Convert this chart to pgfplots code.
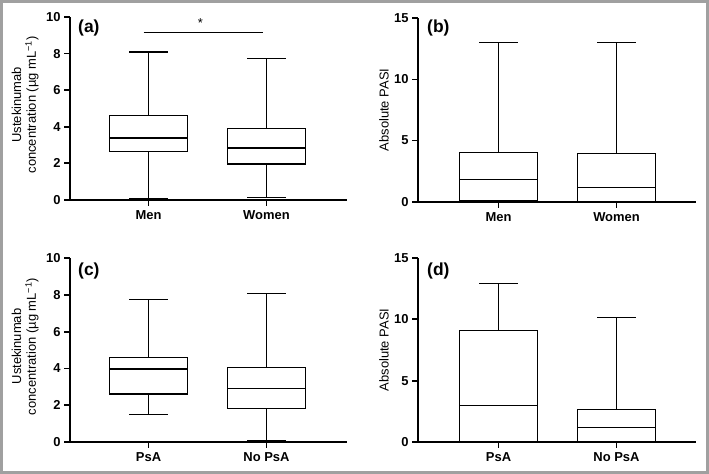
\documentclass[border=0pt]{standalone}
\usepackage{pgfplots}
\pgfplotsset{compat=1.18}
\usepgfplotslibrary{statistics}
\usepackage{fontspec}
\setmainfont{Liberation Sans}
\definecolor{framegray}{RGB}{160,160,160}
\pgfplotsset{
  panel/.style={
    scale only axis,
    anchor=south west,
    axis x line*=bottom,
    axis y line*=left,
    axis line style={-, line width=1.8bp, black},
    tick align=outside,
    major tick length=6bp,
    tick style={line width=1.8bp, black},
    xtick={1,2},
    /pgf/number format/assume math mode=true,
    tick label style={font=\bfseries\fontsize{13}{15}\selectfont},
    xticklabel style={yshift=-1.5bp},
    ylabel style={font=\fontsize{13}{15}\selectfont, align=center},
    clip=false,
    boxplot/draw direction=y,
    boxplot/every box/.style={draw=black, line width=1.4bp, fill=white},
    boxplot/every whisker/.style={draw=black, line width=1.4bp},
    boxplot/every median/.style={draw=black, line width=1.4bp},
  },
  bx/.style={black, solid, line width=1.4bp, mark=none},
}
\begin{document}
\begin{tikzpicture}[x=1bp,y=1bp]
\useasboundingbox (0,0) rectangle (709,474);
\draw[framegray, line width=3bp] (1.5,1.5) rectangle (707.5,472.5);

% (a)
\begin{axis}[panel, at={(70bp,274bp)}, width=277bp, height=183bp,
  xmin=0.3347, xmax=2.6821, ymin=0, ymax=10, ytick={0,2,4,6,8,10},
  xticklabels={Men,Women},
  ylabel={Ustekinumab\\concentration (µg mL\textsuperscript{−1})},
  ylabel style={at={(axis description cs:-0.162,0.52)}, anchor=center}]
\addplot[bx, boxplot prepared={draw direction=y, draw position=1, lower whisker=0.05, lower quartile=2.64, median=3.39, upper quartile=4.63, upper whisker=8.09, box extend=0.66, whisker extend=0.33}] coordinates {};
\addplot[bx, boxplot prepared={draw direction=y, draw position=2, lower whisker=0.15, lower quartile=1.97, median=2.83, upper quartile=3.92, upper whisker=7.74, box extend=0.66, whisker extend=0.33}] coordinates {};
\draw[black, line width=1bp] (axis cs:0.958,9.13) -- (axis cs:1.966,9.13);
\node[anchor=base, inner sep=0, font=\fontsize{13}{15}\selectfont] at (axis cs:1.44,9.43) {*};
\end{axis}

% (b)
\begin{axis}[panel, at={(418bp,272.3bp)}, width=278bp, height=183.4bp,
  xmin=0.3178, xmax=2.6737, ymin=0, ymax=15, ytick={0,5,10,15},
  xticklabels={Men,Women},
  ylabel={Absolute PASI},
  ylabel style={at={(axis description cs:-0.122,0.5)}, anchor=center}]
\addplot[bx, boxplot prepared={draw direction=y, draw position=1, lower whisker=0, lower quartile=0.1, median=1.83, upper quartile=4.0, upper whisker=13.0, box extend=0.66, whisker extend=0.33}] coordinates {};
\addplot[bx, boxplot prepared={draw direction=y, draw position=2, lower whisker=0, lower quartile=0, median=1.18, upper quartile=3.93, upper whisker=13.0, box extend=0.66, whisker extend=0.33}] coordinates {};
\end{axis}

% (c)
\begin{axis}[panel, at={(70bp,32bp)}, width=277bp, height=183.7bp,
  xmin=0.3347, xmax=2.6821, ymin=0, ymax=10, ytick={0,2,4,6,8,10},
  xticklabels={PsA,No PsA},
  ylabel={Ustekinumab\\concentration (µg mL\textsuperscript{−1})},
  ylabel style={at={(axis description cs:-0.162,0.52)}, anchor=center}]
\addplot[bx, boxplot prepared={draw direction=y, draw position=1, lower whisker=1.51, lower quartile=2.61, median=3.97, upper quartile=4.59, upper whisker=7.77, box extend=0.66, whisker extend=0.33}] coordinates {};
\addplot[bx, boxplot prepared={draw direction=y, draw position=2, lower whisker=0.05, lower quartile=1.83, median=2.92, upper quartile=4.07, upper whisker=8.09, box extend=0.66, whisker extend=0.33}] coordinates {};
\end{axis}

% (d)
\begin{axis}[panel, at={(418bp,32bp)}, width=278bp, height=184bp,
  xmin=0.3178, xmax=2.6737, ymin=0, ymax=15, ytick={0,5,10,15},
  xticklabels={PsA,No PsA},
  ylabel={Absolute PASI},
  ylabel style={at={(axis description cs:-0.122,0.5)}, anchor=center}]
\addplot[bx, boxplot prepared={draw direction=y, draw position=1, lower whisker=0, lower quartile=0, median=2.96, upper quartile=9.09, upper whisker=12.94, box extend=0.66, whisker extend=0.33}] coordinates {};
\addplot[bx, boxplot prepared={draw direction=y, draw position=2, lower whisker=0, lower quartile=0, median=1.17, upper quartile=2.63, upper whisker=10.14, box extend=0.66, whisker extend=0.33}] coordinates {};
\end{axis}

\node[anchor=west, inner sep=0, font=\bfseries\fontsize{17.5}{20}\selectfont] at (78,446) {(a)};
\node[anchor=west, inner sep=0, font=\bfseries\fontsize{17.5}{20}\selectfont] at (427,446) {(b)};
\node[anchor=west, inner sep=0, font=\bfseries\fontsize{17.5}{20}\selectfont] at (78,203) {(c)};
\node[anchor=west, inner sep=0, font=\bfseries\fontsize{17.5}{20}\selectfont] at (427,203) {(d)};
\end{tikzpicture}
\end{document}
